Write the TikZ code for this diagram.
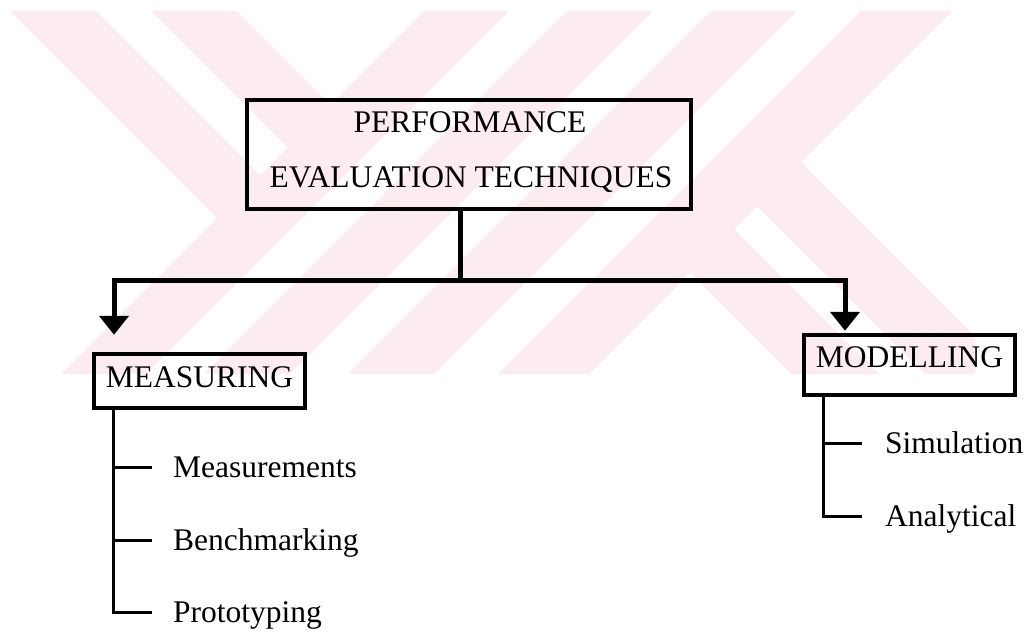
\documentclass[tikz,border=0pt]{standalone}
\usepackage{fontspec}
\setmainfont{Liberation Serif}
\usetikzlibrary{arrows.meta,calc}
\definecolor{wm}{RGB}{252,236,239}
\begin{document}
\begin{tikzpicture}[x=1pt,y=-1pt,
  every node/.style={font=\fontsize{31.5}{38}\selectfont},
  box/.style={draw, line width=4.5pt, inner sep=0pt, rectangle},
  conn/.style={line width=5pt},
  tipd/.style={-{Triangle[width=29pt,length=19pt]}},
  tree/.style={line width=3pt},
  item/.style={inner sep=0pt, text height=20pt, text depth=0pt, anchor=west},
  txt/.style={inner sep=0pt, anchor=base}
]
\useasboundingbox (0,0) rectangle (1025,632);
% watermark
\begin{scope}
\clip (0,11) rectangle (975,373);
\fill[wm] (435,0) -- (520,0) -- (120,400) -- (35,400) -- cycle;
\fill[wm] (578,0) -- (664,0) -- (264,400) -- (178,400) -- cycle;
\fill[wm] (722,0) -- (808,0) -- (408,400) -- (322,400) -- cycle;
\fill[wm] (872,0) -- (963,0) -- (563,400) -- (472,400) -- cycle;
\fill[wm] (-1,0) -- (85,0) -- (265,180) -- (222,223) -- cycle;
\fill[wm] (140,0) -- (226,0) -- (335.5,109.5) -- (292.5,152.5) -- cycle;
\fill[wm] (685,268) -- (729,224) -- (905,400) -- (817,400) -- cycle;
\fill[wm] (752,201) -- (796,157) -- (1039,400) -- (951,400) -- cycle;
\end{scope}
% boxes
\node[box, minimum width=444pt, minimum height=109pt] (root) at (469,154.5) {};
\node[txt] (t1) at (470,132) {PERFORMANCE};
\node[txt] (t2) at (471,187) {EVALUATION TECHNIQUES};
\node[box, minimum width=211pt, text height=33pt, text depth=21pt] (meas) at (199.5,381) {MEASURING};
\node[box, minimum width=211pt, text height=32pt, text depth=28pt] (model) at (909.5,365) {MODELLING};
% connectors
\coordinate (jn) at (460,280);
\coordinate (lc) at (114,280);
\coordinate (rc) at (845,280);
\draw[conn] (root.south -| jn) -- (jn);
\draw[conn, tipd, shorten >=17pt] (jn) -- (lc) -- (lc |- meas.north);
\draw[conn, tipd, shorten >=2pt] (jn) -- (rc) -- (rc |- model.north);
% items
\node[item] (m1) at (173,467) {Measurements};
\node[item] (m2) at (173,540) {Benchmarking};
\node[item] (m3) at (173,612) {Prototyping};
\node[item] (s1) at (885,443) {Simulation};
\node[item] (s2) at (885,516) {Analytical};
\coordinate (lx) at (113,0);
\coordinate (rx) at (823,0);
\draw[tree] (meas.south -| lx) |- ($(m3.west)+(-21,0)$);
\draw[tree] (m1.west -| lx) -- ($(m1.west)+(-21,0)$);
\draw[tree] (m2.west -| lx) -- ($(m2.west)+(-21,0)$);
\draw[tree] (model.south -| rx) |- ($(s2.west)+(-23,0)$);
\draw[tree] (s1.west -| rx) -- ($(s1.west)+(-23,0)$);
\end{tikzpicture}
\end{document}
